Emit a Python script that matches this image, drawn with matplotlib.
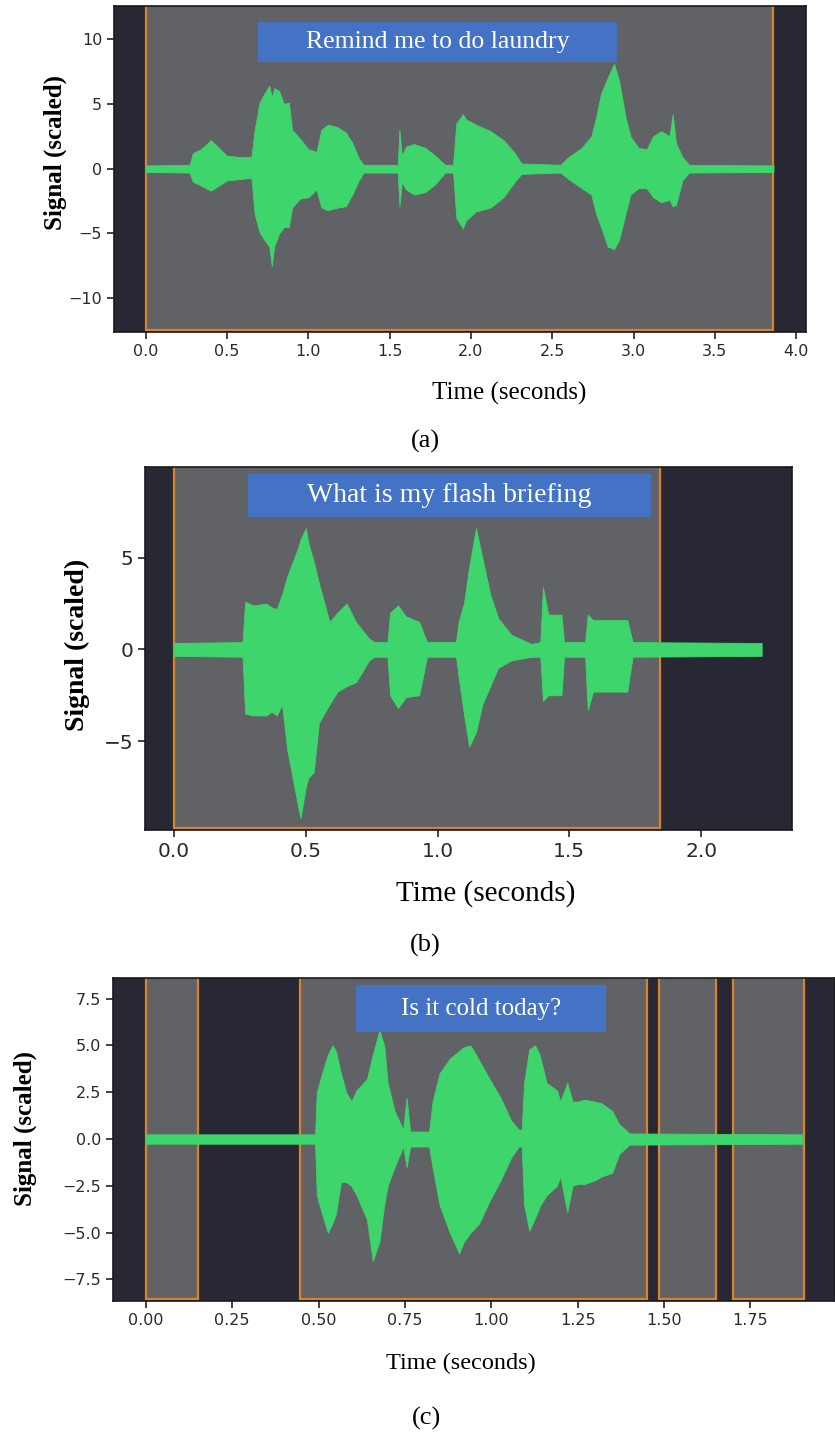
import matplotlib
matplotlib.use("Agg")
import matplotlib.pyplot as plt
from matplotlib.patches import Rectangle

W, H = 835, 1433

# ---- data: waveform envelopes (time s, upper, lower) ----
a_time = [0.00, 0.27, 0.29, 0.34, 0.40, 0.45, 0.50, 0.58, 0.65, 0.67, 0.70, 0.73, 0.76, 0.775,
          0.79, 0.82, 0.85, 0.88, 0.90, 0.95, 1.00, 1.05, 1.08, 1.12, 1.18, 1.23, 1.27, 1.31,
          1.34, 1.55, 1.56, 1.575, 1.60, 1.65, 1.72, 1.78, 1.84, 1.89, 1.91, 1.95, 1.97, 2.03,
          2.12, 2.20, 2.27, 2.31, 2.55, 2.60, 2.68, 2.74, 2.77, 2.80, 2.84, 2.88, 2.91, 2.95,
          2.98, 3.03, 3.08, 3.12, 3.17, 3.22, 3.24, 3.26, 3.30, 3.34, 3.86]
a_upper = [0.25, 0.3, 1.2, 1.5, 2.2, 1.6, 1.0, 0.9, 0.9, 3.0, 5.1, 5.8, 6.4, 5.5,
           6.2, 6.0, 5.0, 5.1, 3.0, 2.3, 1.5, 1.3, 3.0, 3.4, 3.2, 2.8, 2.0, 0.8,
           0.3, 0.3, 3.0, 1.0, 1.7, 1.9, 1.6, 1.0, 0.3, 0.3, 3.5, 4.2, 3.8, 3.4,
           2.9, 2.2, 1.2, 0.4, 0.3, 0.9, 1.6, 2.5, 4.0, 5.8, 7.0, 8.1, 6.8, 4.0,
           2.5, 1.6, 1.5, 2.5, 2.9, 2.5, 4.2, 2.0, 0.9, 0.3, 0.25]
a_lower = [-0.25, -0.3, -1.0, -1.3, -1.7, -1.3, -0.9, -0.8, -0.7, -3.5, -4.9, -5.5, -6.0, -7.5,
           -6.0, -5.0, -4.5, -4.5, -3.0, -2.3, -2.2, -1.6, -3.0, -3.2, -3.0, -2.9, -2.0, -0.9,
           -0.3, -0.3, -2.9, -1.0, -1.6, -2.0, -1.8, -1.2, -0.3, -0.3, -3.8, -4.6, -4.0, -3.3,
           -3.0, -2.2, -1.0, -0.4, -0.3, -0.8, -1.5, -2.0, -3.5, -4.5, -6.0, -6.2, -5.5, -3.5,
           -2.0, -1.5, -1.5, -2.2, -2.6, -2.4, -2.9, -2.8, -0.9, -0.3, -0.25]

b_time = [0.00, 0.26, 0.27, 0.30, 0.35, 0.37, 0.39, 0.41, 0.43, 0.47, 0.48, 0.50, 0.51, 0.53,
          0.55, 0.59, 0.62, 0.655, 0.69, 0.74, 0.76, 0.81, 0.82, 0.85, 0.88, 0.93, 0.96, 1.07,
          1.08, 1.10, 1.12, 1.146, 1.17, 1.20, 1.23, 1.28, 1.355, 1.39, 1.40, 1.42, 1.47, 1.48,
          1.56, 1.57, 1.59, 1.65, 1.72, 1.74, 2.23]
b_upper = [0.35, 0.4, 2.6, 2.4, 2.5, 2.3, 2.2, 3.0, 4.0, 5.5, 6.0, 6.6, 5.8, 4.8,
           3.6, 1.5, 2.0, 2.5, 1.5, 0.6, 0.4, 0.4, 2.0, 2.4, 1.8, 1.5, 0.4, 0.4,
           1.5, 2.5, 4.5, 6.6, 5.0, 3.0, 1.7, 0.8, 0.3, 0.4, 3.4, 1.9, 1.9, 0.4,
           0.4, 1.9, 1.6, 1.6, 1.6, 0.4, 0.35]
b_lower = [-0.35, -0.4, -3.5, -3.6, -3.6, -3.4, -3.6, -3.0, -5.5, -8.5, -9.2, -7.5, -7.0, -6.7,
           -4.0, -3.0, -2.3, -2.0, -1.8, -0.6, -0.4, -0.4, -2.5, -3.2, -2.6, -2.5, -0.4, -0.4,
           -1.5, -3.5, -5.3, -4.5, -3.0, -2.0, -1.0, -0.6, -0.4, -0.4, -2.8, -2.5, -2.5, -0.4,
           -0.4, -3.3, -2.3, -2.3, -2.3, -0.4, -0.35]

c_time = [0.00, 0.49, 0.495, 0.51, 0.527, 0.54, 0.55, 0.565, 0.58, 0.595, 0.61, 0.64, 0.657,
          0.676, 0.69, 0.70, 0.72, 0.745, 0.755, 0.765, 0.82, 0.83, 0.85, 0.88, 0.907, 0.92,
          0.94, 0.965, 0.995, 1.027, 1.057, 1.08, 1.088, 1.095, 1.11, 1.127, 1.14, 1.16, 1.19,
          1.20, 1.22, 1.235, 1.25, 1.27, 1.30, 1.32, 1.35, 1.37, 1.40, 1.90]
c_upper = [0.25, 0.25, 2.5, 3.5, 4.5, 5.0, 4.7, 3.5, 2.5, 2.0, 2.6, 3.2, 4.5,
           5.8, 5.0, 3.0, 1.5, 0.5, 2.2, 0.4, 0.4, 2.0, 3.5, 4.3, 4.7, 4.9,
           5.0, 4.2, 3.2, 2.2, 1.0, 0.5, 0.5, 3.0, 4.8, 5.0, 4.5, 3.0, 2.6,
           2.0, 3.0, 2.0, 2.0, 2.1, 2.0, 1.9, 1.5, 0.8, 0.3, 0.25]
c_lower = [-0.25, -0.25, -3.0, -4.0, -5.0, -4.5, -4.0, -2.3, -2.3, -2.5, -3.0, -4.3, -6.5,
           -5.5, -3.5, -2.5, -1.5, -0.4, -1.5, -0.4, -0.4, -1.5, -3.5, -5.0, -6.1, -5.5,
           -5.0, -4.5, -3.3, -2.2, -1.0, -0.4, -0.4, -3.5, -4.9, -4.2, -3.6, -3.0, -2.5,
           -2.0, -3.9, -2.5, -2.4, -2.4, -2.2, -2.0, -1.8, -0.8, -0.3, -0.25]

a_spans = [(0.0, 3.86)]
b_spans = [(0.0, 1.845)]
c_spans = [(0.0, 0.15), (0.445, 1.452), (1.485, 1.65), (1.70, 1.905)]

a_xticks = [0.0, 0.5, 1.0, 1.5, 2.0, 2.5, 3.0, 3.5, 4.0]
a_yticks = [-10, -5, 0, 5, 10]
b_xticks = [0.0, 0.5, 1.0, 1.5, 2.0]
b_yticks = [-5, 0, 5]
c_xticks = [0.00, 0.25, 0.50, 0.75, 1.00, 1.25, 1.50, 1.75]
c_yticks = [-7.5, -5.0, -2.5, 0.0, 2.5, 5.0, 7.5]

phrases = ["Remind me to do laundry", "What is my flash briefing", "Is it cold today?"]
captions = ["(a)", "(b)", "(c)"]

DARK = "#272833"
GRAY = "#616265"
GREEN = "#3dd56c"
ORANGE = "#d9842b"
BLUE = "#4472c4"
SERIF = ["Liberation Serif", "DejaVu Serif"]

fig = plt.figure(figsize=(W / 100, H / 100), dpi=100)
fig.patch.set_facecolor("white")


def px_axes(left, top, right, bottom):
    return fig.add_axes([left / W, 1 - bottom / H, (right - left) / W, (bottom - top) / H])


panels = [
    dict(rect=(114, 6, 806, 332), t=a_time, up=a_upper, lo=a_lower, spans=a_spans,
         xlim=(-0.195, 4.06), ylim=(-12.6, 12.55), xt=a_xticks, yt=a_yticks, dec=1,
         tick=11.5, box=(0.208, 0.828, 0.727, 0.951), fs=18.5,
         ylab=(55, 152, 18), xlab=(509, 393, 18), cap=(425, 441)),
    dict(rect=(145, 467, 792, 830), t=b_time, up=b_upper, lo=b_lower, spans=b_spans,
         xlim=(-0.11, 2.345), ylim=(-9.85, 9.95), xt=b_xticks, yt=b_yticks, dec=1,
         tick=14.5, box=(0.159, 0.862, 0.782, 0.981), fs=20,
         ylab=(77, 645, 20), xlab=(486, 894, 21), cap=(425, 945)),
    dict(rect=(113, 978, 835, 1301), t=c_time, up=c_upper, lo=c_lower, spans=c_spans,
         xlim=(-0.095, 1.995), ylim=(-8.65, 8.6), xt=c_xticks, yt=c_yticks, dec=2,
         tick=11.5, box=(0.337, 0.833, 0.683, 0.978), fs=18,
         ylab=(25, 1129, 18), xlab=(461, 1363, 17.5), cap=(426, 1418)),
]

for p, phrase, cap in zip(panels, phrases, captions):
    ax = px_axes(*p["rect"])
    ax.set_facecolor(DARK)
    for s0, s1 in p["spans"]:
        # top edge pushed past the axes so only the sides and bottom show orange
        ax.axvspan(s0, s1, ymin=0.006, ymax=1.02, facecolor=GRAY, edgecolor=ORANGE,
                   linewidth=1.6, zorder=1)
    ax.fill_between(p["t"], p["lo"], p["up"], color=GREEN, linewidth=0.6, zorder=2)
    ax.set_xlim(*p["xlim"])
    ax.set_ylim(*p["ylim"])
    ax.set_xticks(p["xt"])
    ax.set_xticklabels([f"{v:.{p['dec']}f}" for v in p["xt"]])
    ax.set_yticks(p["yt"])
    if p["dec"] == 2:
        ax.set_yticklabels([f"{v:.1f}".replace("-", "\u2212") for v in p["yt"]])
    ax.tick_params(labelsize=p["tick"], colors="#222222", labelcolor="#2a2a2a", length=5, width=1.2)
    for sp in ax.spines.values():
        sp.set_color("#1a1a1a")
        sp.set_linewidth(1.2)

    x0, y0, x1, y1 = p["box"]
    ax.add_patch(Rectangle((x0, y0), x1 - x0, y1 - y0, transform=ax.transAxes,
                           facecolor=BLUE, edgecolor="none", zorder=5))
    ax.text((x0 + x1) / 2, (y0 + y1) / 2, phrase, transform=ax.transAxes, ha="center",
            va="center", color="white", fontsize=p["fs"], family=SERIF, zorder=6)

    lx, ly, lfs = p["ylab"]
    fig.text(lx / W, 1 - ly / H, "Signal (scaled)", rotation=90, ha="center", va="center",
             fontsize=lfs, fontweight="bold", family=SERIF)
    tx, ty, tfs = p["xlab"]
    fig.text(tx / W, 1 - ty / H, "Time (seconds)", ha="center", va="center",
             fontsize=tfs, family=SERIF)
    cx, cy = p["cap"]
    fig.text(cx / W, 1 - cy / H, cap, ha="center", va="center", fontsize=19, family=SERIF)

fig.savefig("out.png", dpi=100, facecolor="white")
